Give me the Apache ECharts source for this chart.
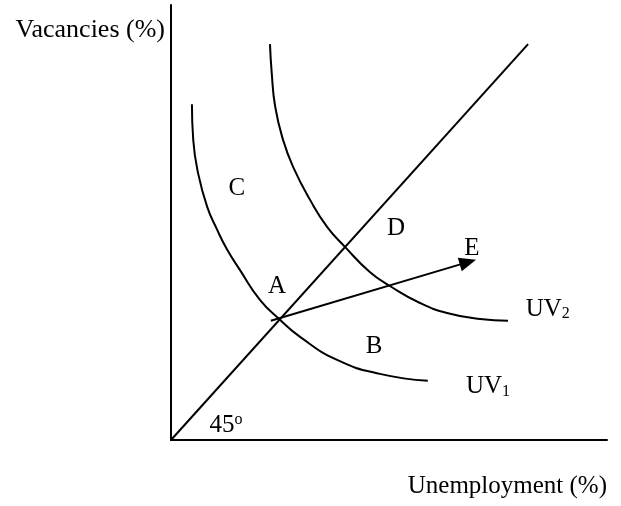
<!DOCTYPE html>
<html>
<head>
<meta charset="utf-8">
<script src="https://cdn.jsdelivr.net/npm/echarts@6/dist/echarts.min.js"></script>
<style>
  html, body { margin: 0; padding: 0; background: #fff; }
  #chart { width: 621px; height: 506px; }
</style>
</head>
<body>
<div id="chart"></div>
<script>
// curve points (unemployment %, vacancies %)
const uv1 = [
  [4.8, 77.2], [5.1, 69.0], [6.2, 61.4], [8.3, 53.6], [10.6, 48.3], [12.8, 43.9], [15.8, 39.1],
  [20.4, 32.2], [24.8, 27.8], [29.6, 23.7], [38.1, 18.4], [47.9, 15.2], [58.9, 13.6]
]
const uv2 = [
  [22.7, 91.0], [23.1, 84.4], [23.9, 76.6], [25.7, 69.0], [28.0, 62.8], [31.9, 55.2], [35.8, 49.0],
  [39.9, 44.4], [45.6, 38.6], [50.2, 35.4], [57.1, 31.5], [63.3, 29.2], [70.9, 27.8], [77.3, 27.4]
]
const diagonal = [[0, 0], [81.9, 91.0]]
const arrowFrom = [22.9, 27.4]
const arrowTo = [68.1, 40.9]

const pointNames = ['C', 'D', 'E', 'A', 'B', 'UV2', 'UV1', '45deg']
const pointPos = [
  [15.1, 57.9], [51.6, 48.7], [69.0, 44.1], [24.3, 35.2], [46.6, 21.6],
  [86.4, 30.1], [72.7, 12.2], [12.6, 3.4]
]
const pointText = ['C', 'D', 'E', 'A', 'B', 'UV{sub|2}', 'UV{sub|1}', '45{sup|o}']

const serif = "'Liberation Serif', 'Times New Roman', serif"
const ink = '#000'

let chart = echarts.init(document.getElementById('chart'))

let curve = (name, data) => ({
  name: name,
  type: 'line',
  data: data,
  smooth: 0.5,
  symbol: 'none',
  silent: true,
  lineStyle: { color: ink, width: 2 }
})

let options = {
  animation: false,
  grid: { left: 171, top: 5, right: 14, bottom: 66, outerBoundsMode: 'none', containLabel: false },
  xAxis: {
    type: 'value',
    min: 0,
    max: 100,
    name: 'Unemployment (%)',
    nameLocation: 'end',
    nameGap: 0,
    nameTextStyle: {
      fontFamily: serif, fontSize: 25, color: ink,
      align: 'right', verticalAlign: 'top', padding: [34, 0, 0, 0]
    },
    axisLine: { show: true, onZero: false, lineStyle: { color: ink, width: 2 } },
    axisTick: { show: false },
    axisLabel: { show: false },
    splitLine: { show: false }
  },
  yAxis: {
    type: 'value',
    min: 0,
    max: 100,
    name: 'Vacancies (%)',
    nameLocation: 'end',
    nameGap: -25,
    nameTextStyle: {
      fontFamily: serif, fontSize: 26, color: ink,
      align: 'right', verticalAlign: 'middle', padding: [0, 6, 0, 0]
    },
    axisLine: { show: true, onZero: false, lineStyle: { color: ink, width: 2 } },
    axisTick: { show: false },
    axisLabel: { show: false },
    splitLine: { show: false }
  },
  series: [
    curve('UV1', uv1),
    curve('UV2', uv2),
    {
      name: 'diagonal',
      type: 'line',
      data: diagonal,
      symbol: 'none',
      silent: true,
      lineStyle: { color: ink, width: 2 },
      markLine: {
        silent: true,
        symbol: ['none', 'triangle'],
        symbolSize: [14, 17],
        label: { show: false },
        itemStyle: { color: ink },
        lineStyle: { color: ink, width: 2, type: 'solid' },
        data: [[{ coord: arrowFrom }, { coord: arrowTo }]]
      }
    },
    {
      name: 'labels',
      type: 'scatter',
      symbolSize: 0,
      silent: true,
      itemStyle: { opacity: 1 },
      data: pointPos.map((p, i) => ({ name: pointNames[i], value: p, text: pointText[i] })),
      label: {
        show: true,
        position: 'inside',
        formatter: (p) => p.data.text,
        fontFamily: serif,
        fontSize: 25,
        color: ink,
        opacity: 1,
        textBorderWidth: 0,
        rich: {
          sub: { fontFamily: serif, fontSize: 16, color: ink, verticalAlign: 'bottom', padding: [10, 0, 0, 0] },
          sup: { fontFamily: serif, fontSize: 16, color: ink, verticalAlign: 'top', padding: [0, 0, 10, 0] }
        }
      }
    }
  ]
}
chart.setOption(options)
</script>
</body>
</html>
